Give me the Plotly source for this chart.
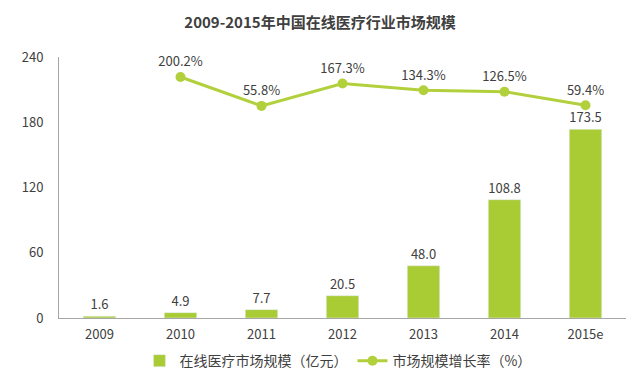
import plotly.graph_objects as go

years = ["2009", "2010", "2011", "2012", "2013", "2014", "2015e"]
market_size = [1.6, 4.9, 7.7, 20.5, 48.0, 108.8, 173.5]
growth_years = ["2010", "2011", "2012", "2013", "2014", "2015e"]
growth_rate = [200.2, 55.8, 167.3, 134.3, 126.5, 59.4]
y_ticks = [0, 60, 120, 180, 240]

GREEN = "#a9cc35"
LINE_GREEN = "#b2d03c"
FONT = "Noto Sans CJK SC, Noto Sans, sans-serif"
TXT = "#404040"

fig = go.Figure()
fig.add_trace(go.Bar(
    x=years, y=market_size, name="在线医疗市场规模（亿元）",
    marker_color=GREEN, width=0.4,
    text=[f"{v:.1f}" for v in market_size], textposition="outside",
    textfont=dict(size=13, color=TXT), cliponaxis=False,
))
fig.add_trace(go.Scatter(
    x=growth_years, y=growth_rate, name="市场规模增长率（%）",
    yaxis="y2", mode="lines+markers+text",
    line=dict(color=LINE_GREEN, width=3),
    marker=dict(color=LINE_GREEN, size=10),
    text=[f"{v:.1f}%" for v in growth_rate], textposition="top center",
    textfont=dict(size=13, color=TXT), cliponaxis=False,
))

fig.update_layout(
    width=640, height=384,
    margin=dict(l=59, r=14, t=57, b=66, autoexpand=False),
    paper_bgcolor="white", plot_bgcolor="white",
    font=dict(family=FONT, size=12, color=TXT),
    title=dict(text="<b>2009-2015年中国在线医疗行业市场规模</b>", x=0.5, xanchor="center",
               y=0.94, yanchor="middle", font=dict(size=15, color=TXT)),
    xaxis=dict(showline=True, linecolor="#a6a6a6", linewidth=1, ticks="",
               tickfont=dict(size=13, color=TXT), showgrid=False, automargin=False,
               ticklabelstandoff=4),
    yaxis=dict(range=[0, 240], tickvals=y_ticks, showline=True, linecolor="#a6a6a6",
               linewidth=1, showgrid=False, zeroline=False, ticks="",
               tickfont=dict(size=13, color=TXT), ticklabelstandoff=12, automargin=False),
    yaxis2=dict(range=[-1003, 300], overlaying="y", side="right", visible=False),
    legend=dict(orientation="h", x=0.492, xanchor="center", y=-0.165, yanchor="middle",
                font=dict(size=14, color=TXT), traceorder="normal", itemwidth=30),
    showlegend=True,
    bargap=0.6,
)

fig.write_html("out.html", config={"displayModeBar": False},
               post_script="document.body.style.margin='0';")
